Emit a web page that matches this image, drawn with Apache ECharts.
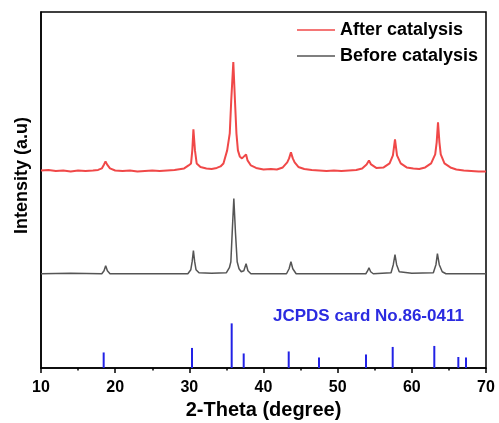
<!DOCTYPE html>
<html>
<head>
  <meta charset="utf-8">
  <title>XRD</title>
  <script src="https://cdn.jsdelivr.net/npm/echarts@6/dist/echarts.min.js"></script>
</head>
<body style="margin:0">
  <div id="container" style="height: 423px; width: 499px"></div>
  <script>
    // [2theta, intensity] (arbitrary units)
    var afterData = [
      [10,197],[11,197.5],[12,196.5],[13,197],[14,196],[15,197],[16,196.5],[17,197],[17.7,197.5],
      [18.2,199],[18.5,203],[18.7,206],[18.9,203],[19.3,199],[20,197],[21,196.5],[22,197],[23,196],
      [24,196.5],[25,197],[26,196.5],[27,197],[28,197.5],[29.3,199],[29.9,202],[30.23,204],[30.4,217],
      [30.55,238],[30.76,217],[30.99,204],[31.5,200.5],[32.3,199],[33,198.5],[33.7,199.5],[34.2,201],
      [34.6,204],[35.1,217],[35.45,234],[35.65,267],[35.93,305],[36.15,267],[36.35,234],[36.55,217],
      [36.8,211],[37.1,209],[37.35,210],[37.65,213],[37.85,207],[38.3,202],[39,199.5],[40,198],
      [41,198.5],[41.8,198],[42.6,200],[43.2,205],[43.45,209],[43.7,215],[43.95,209],[44.2,205],
      [44.7,200.5],[45.5,198.5],[46.5,197.5],[47.5,197],[48.5,196.5],[49.5,197],[50.5,196.5],[51.5,197],
      [52.5,197.5],[53.3,199],[53.9,203],[54.22,207],[54.5,203],[55.2,199.5],[56.2,200],[57,204],
      [57.45,212],[57.73,228],[58.0,212],[58.5,204],[59.3,200],[60.2,199],[61,198.5],[61.8,200],
      [62.6,204],[63.15,213],[63.35,225],[63.53,245],[63.72,225],[63.9,213],[64.4,204],[65.2,200],
      [66,198],[67,197],[68,196.5],[69,196],[70,196]
    ];
    var beforeData = [
      [10,94],[14,94.5],[18.2,94],[18.5,97],[18.72,102],[18.95,97],[19.3,94],[24,94],[29.8,94],
      [30.2,98],[30.38,106],[30.55,117],[30.72,106],[30.9,98],[31.3,95],[33,94.5],[35.0,95],[35.4,100],
      [35.6,106],[35.78,135],[36.0,169],[36.22,135],[36.45,106],[36.7,99],[37.0,96],[37.35,97],
      [37.65,104],[37.9,97],[38.3,94],[40,94],[43.1,94],[43.45,99],[43.7,106],[43.95,99],[44.4,94],
      [48,94],[53.8,94],[54.05,97],[54.22,100],[54.45,96],[54.8,94],[57.2,95],[57.5,103],[57.73,113],
      [57.95,103],[58.3,96],[60,94.5],[62.9,95],[63.25,103],[63.45,114],[63.7,103],[64.1,96],
      [64.6,94],[67,94],[70,94]
    ];
    // reference card line positions and heights
    var cardData = [
      [18.45,15.5],[30.36,20],[35.71,44.5],[37.33,14.5],[43.4,16.5],[47.48,10.5],
      [53.82,13.5],[57.42,21],[63.03,22],[66.27,11],[67.3,10.5]
    ];
    var xTicks = [10, 20, 30, 40, 50, 60, 70];

    var font = 'Arial, "Liberation Sans", sans-serif';
    var myChart = echarts.init(document.getElementById('container'));
    var option = {
      animation: false,
      grid: {
        left: 41, right: 13, top: 12, bottom: 55,
        outerBoundsMode: 'none',
        show: true, borderColor: '#000', borderWidth: 1.5
      },
      legend: {
        orient: 'vertical',
        left: 292, top: 15,
        icon: 'rect',
        itemWidth: 38, itemHeight: 1.5, itemGap: 6,
        textStyle: { fontFamily: font, fontSize: 18, lineHeight: 20, fontWeight: 'bold', color: '#000' },
        data: ['After catalysis', 'Before catalysis']
      },
      xAxis: {
        type: 'value',
        min: xTicks[0], max: xTicks[xTicks.length - 1], interval: 10,
        name: '2-Theta (degree)',
        nameLocation: 'middle', nameGap: 30,
        nameTextStyle: { fontFamily: font, fontSize: 20, fontWeight: 'bold', color: '#000' },
        axisLine: { lineStyle: { color: '#000', width: 1.5 } },
        axisTick: { inside: false, length: 5, lineStyle: { color: '#000', width: 1.5 } },
        minorTick: { show: true, splitNumber: 2, length: 2.5, lineStyle: { color: '#000', width: 1.5 } },
        axisLabel: { fontFamily: font, fontSize: 16, fontWeight: 'bold', color: '#000', margin: 12 },
        splitLine: { show: false }
      },
      yAxis: {
        type: 'value',
        min: 0, max: 355,
        name: 'Intensity (a.u)',
        nameLocation: 'middle', nameGap: 10,
        nameTextStyle: { fontFamily: font, fontSize: 18, fontWeight: 'bold', color: '#000', padding: [0, 0, 0, 29] },
        axisLine: { show: true, lineStyle: { color: '#000', width: 1.5 } },
        axisTick: { show: false },
        axisLabel: { show: false },
        splitLine: { show: false }
      },
      graphic: [{
        type: 'text',
        left: 273, top: 308,
        style: { text: 'JCPDS card No.86-0411', fill: '#2b2be0', font: 'bold 17px ' + font }
      }],
      series: [
        {
          name: 'After catalysis', type: 'line', data: afterData,
          symbol: 'none', color: '#f04848',
          lineStyle: { width: 2, color: '#f04848' }
        },
        {
          name: 'Before catalysis', type: 'line', data: beforeData,
          symbol: 'none', color: '#555555',
          lineStyle: { width: 1.5, color: '#555555' }
        },
        {
          name: 'card', type: 'bar', data: cardData,
          barWidth: 2, itemStyle: { color: '#2222e6' }
        }
      ]
    };
    myChart.setOption(option);
  </script>
</body>
</html>
